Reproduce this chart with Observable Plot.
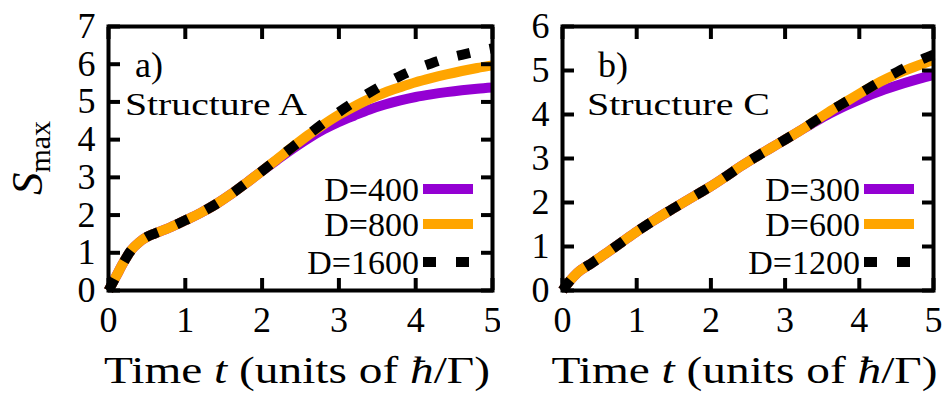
<!DOCTYPE html>
<html>
<head>
<meta charset="utf-8">
<script src="https://cdn.jsdelivr.net/npm/d3@7"></script>
<script src="https://cdn.jsdelivr.net/npm/@observablehq/plot@0.6"></script>
<style>
  html, body { margin: 0; padding: 0; background: #fff; }
  #chart { display: flex; width: 944px; height: 401px; }
  #chart svg { display: block; }
  #chart svg text { font-family: "Liberation Serif", "DejaVu Serif", serif; }
</style>
</head>
<body>
<div id="chart"></div>
<script>
// Tick values
const xTicks = [0, 1, 2, 3, 4, 5];
const yTicksA = [0, 1, 2, 3, 4, 5, 6, 7];
const yTicksB = [0, 1, 2, 3, 4, 5, 6];

// Panel a) Structure A: S_max versus time for three system sizes D
const timeA = [0, 0.1, 0.2, 0.3, 0.4, 0.5, 0.6, 0.8, 1.0, 1.2, 1.4, 1.6, 1.8, 2.0, 2.2, 2.4, 2.6, 2.8, 3.0, 3.2, 3.4, 3.6, 3.8, 4.0, 4.2, 4.4, 4.6, 4.8, 5.0];
const smaxA400  = [0, 0.38, 0.76, 1.08, 1.28, 1.42, 1.51, 1.67, 1.86, 2.06, 2.29, 2.56, 2.86, 3.17, 3.47, 3.76, 4.03, 4.27, 4.47, 4.64, 4.80, 4.93, 5.04, 5.13, 5.20, 5.26, 5.31, 5.35, 5.38];
const smaxA800  = [0, 0.38, 0.76, 1.08, 1.28, 1.42, 1.51, 1.67, 1.86, 2.06, 2.29, 2.56, 2.86, 3.17, 3.49, 3.81, 4.12, 4.40, 4.66, 4.88, 5.08, 5.25, 5.39, 5.52, 5.63, 5.73, 5.82, 5.90, 5.97];
const smaxA1600 = [0, 0.38, 0.76, 1.08, 1.28, 1.42, 1.51, 1.67, 1.86, 2.06, 2.29, 2.56, 2.86, 3.17, 3.49, 3.81, 4.13, 4.44, 4.73, 5.00, 5.25, 5.48, 5.69, 5.87, 6.02, 6.15, 6.25, 6.34, 6.42];
const legendA = ["D=400", "D=800", "D=1600"];

// Panel b) Structure C
const timeB = [0, 0.1, 0.2, 0.4, 0.6, 0.8, 1.0, 1.2, 1.4, 1.6, 1.8, 2.0, 2.2, 2.4, 2.6, 2.8, 3.0, 3.2, 3.4, 3.6, 3.8, 4.0, 4.2, 4.4, 4.6, 4.8, 5.0];
const smaxB300  = [0, 0.22, 0.40, 0.63, 0.86, 1.10, 1.34, 1.56, 1.77, 1.97, 2.17, 2.37, 2.59, 2.82, 3.03, 3.23, 3.43, 3.63, 3.83, 4.02, 4.19, 4.34, 4.48, 4.60, 4.71, 4.81, 4.90];
const smaxB600  = [0, 0.22, 0.40, 0.63, 0.86, 1.10, 1.34, 1.56, 1.77, 1.97, 2.17, 2.37, 2.59, 2.82, 3.03, 3.23, 3.43, 3.63, 3.85, 4.07, 4.27, 4.47, 4.67, 4.84, 4.99, 5.12, 5.24];
const smaxB1200 = [0, 0.22, 0.40, 0.63, 0.86, 1.10, 1.34, 1.56, 1.77, 1.97, 2.17, 2.37, 2.59, 2.82, 3.03, 3.23, 3.43, 3.63, 3.85, 4.07, 4.27, 4.47, 4.67, 4.87, 5.05, 5.22, 5.36];
const legendB = ["D=300", "D=600", "D=1200"];

// Series styling: smallest D, middle D, largest D
const seriesColors = ["#9400d3", "#ffa500", "#000000"];
const seriesDash = [null, null, "13,20"];

const stretchQueue = [];

function drawPanel({time, values, labels, yTicks, width, marginLeft, marginRight, tag, tagDx, structure, structureDx, structureWidth, yLabel}) {
  const height = 401, marginTop = 26, marginBottom = 111;

  const marks = values.map((v, k) => Plot.line(time.map((t, i) => ({t, s: v[i]})), {
    x: "t", y: "s",
    stroke: seriesColors[k], strokeWidth: 10,
    strokeDasharray: seriesDash[k] ?? undefined,
    strokeLinecap: "butt",
    strokeLinejoin: "round",
    curve: "monotone-x"
  }));

  marks.push(
    Plot.frame({strokeWidth: 4}),
    // inward ticks on all four sides
    Plot.axisX(xTicks, {anchor: "bottom", tickSize: 12, dy: -12, strokeWidth: 4, fill: "none", label: null}),
    Plot.axisX(xTicks, {anchor: "top", tickSize: 12, dy: 12, strokeWidth: 4, fill: "none", label: null}),
    Plot.axisY(yTicks, {anchor: "left", tickSize: 12, dx: 12, strokeWidth: 4, fill: "none", label: null}),
    Plot.axisY(yTicks, {anchor: "right", tickSize: 12, dx: -12, strokeWidth: 4, fill: "none", label: null}),
    // tick labels
    Plot.axisX(xTicks, {anchor: "bottom", tickSize: 0, tickPadding: 16, fontSize: 36, label: null}),
    Plot.axisY(yTicks, {anchor: "left", tickSize: 0, tickPadding: 13, fontSize: 36, label: null})
  );

  const svg = Plot.plot({
    width, height, marginTop, marginRight, marginBottom, marginLeft,
    x: {domain: [0, 5]},
    y: {domain: [0, yTicks[yTicks.length - 1]]},
    style: {color: "#000", background: "#fff", overflow: "visible"},
    marks
  });

  const g = d3.select(svg);
  const fl = marginLeft, fr = width - marginRight;

  // panel tag and structure name
  g.append("text").attr("x", fl + tagDx).attr("y", 77).attr("text-anchor", "start")
    .attr("font-size", 36).text(tag);
  const st = g.append("text").attr("x", fl + structureDx).attr("y", 115).attr("text-anchor", "start")
    .attr("font-size", 32).text(structure);
  stretchQueue.push([st.node(), structureWidth]);

  // legend: labels right-aligned, sample strokes to their right
  const rowY = [163, 198, 236].map(d => marginTop + d);
  labels.forEach((lab, k) => {
    g.append("text").attr("x", fr - 73).attr("y", rowY[k]).attr("dy", "0.35em")
      .attr("text-anchor", "end").attr("font-size", 34).text(lab);
    const ln = g.append("line").attr("x1", fr - 69).attr("x2", fr - 19)
      .attr("y1", rowY[k]).attr("y2", rowY[k])
      .attr("stroke", seriesColors[k]).attr("stroke-width", 10);
    if (seriesDash[k]) ln.attr("stroke-dasharray", seriesDash[k]);
  });

  // x-axis title
  const xl = g.append("text").attr("x", (fl + fr) / 2 - 3).attr("y", 383)
    .attr("text-anchor", "middle").attr("font-size", 38);
  xl.append("tspan").text("Time ");
  xl.append("tspan").attr("font-style", "italic").text("t");
  xl.append("tspan").text(" (units of ");
  xl.append("tspan").attr("font-style", "italic").text("ħ");
  xl.append("tspan").text("/Γ)");
  stretchQueue.push([xl.node(), 386]);

  // y-axis title S_max
  if (yLabel) {
    const yl = g.append("text").attr("transform", "translate(42,158) rotate(-90)")
      .attr("text-anchor", "middle");
    yl.append("tspan").attr("font-style", "italic").attr("font-size", 45).text("S");
    yl.append("tspan").attr("font-size", 30).attr("dy", 8).text("max");
  }
  return svg;
}

const chart = document.getElementById("chart");
chart.appendChild(drawPanel({
  time: timeA, values: [smaxA400, smaxA800, smaxA1600], labels: legendA, yTicks: yTicksA,
  width: 500, marginLeft: 108, marginRight: 8,
  tag: "a)", tagDx: 27, structure: "Structure A", structureDx: 17, structureWidth: 182, yLabel: true
}));
chart.appendChild(drawPanel({
  time: timeB, values: [smaxB300, smaxB600, smaxB1200], labels: legendB, yTicks: yTicksB,
  width: 444, marginLeft: 62, marginRight: 11,
  tag: "b)", tagDx: 36, structure: "Structure C", structureDx: 25, structureWidth: 183, yLabel: false
}));

// widen the wide serif labels to their set lengths
for (const [node, len] of stretchQueue) {
  node.setAttribute("textLength", len);
  node.setAttribute("lengthAdjust", "spacingAndGlyphs");
}
</script>
</body>
</html>
